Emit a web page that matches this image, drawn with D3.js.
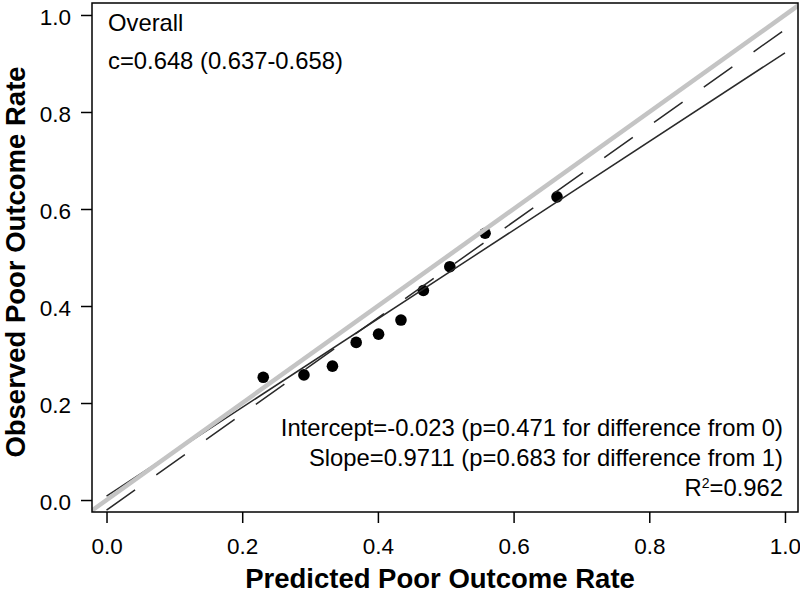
<!DOCTYPE html>
<html>
<head>
<meta charset="utf-8">
<script src="https://cdn.jsdelivr.net/npm/d3@7"></script>
<style>
  html, body { margin: 0; padding: 0; background: #fff; }
  svg { display: block; font-family: "Liberation Sans", Arial, Helvetica, sans-serif; }
</style>
</head>
<body>
<svg id="chart" width="800" height="594"></svg>
<script>
// ---- Data ----
const predicted = [0.231, 0.291, 0.333, 0.368, 0.401, 0.434, 0.467, 0.506, 0.558, 0.664];
const observed  = [0.253, 0.258, 0.276, 0.325, 0.342, 0.371, 0.432, 0.481, 0.550, 0.625];
const xTicks = [0.0, 0.2, 0.4, 0.6, 0.8, 1.0];
const yTicks = [0.0, 0.2, 0.4, 0.6, 0.8, 1.0];
// fitted lines as [x, y] endpoints
const solidLine  = [[0, 0.008], [1, 0.922]];
const dashedLine = [[0, -0.021], [1, 0.970]];
const idealLine  = [[-0.0214, -0.0214], [1.0192, 1.0192]];
const topLabels = ["Overall", "c=0.648 (0.637-0.658)"];
const bottomLabels = ["Intercept=-0.023 (p=0.471 for difference from 0)",
                      "Slope=0.9711 (p=0.683 for difference from 1)"];
const r2Label = "0.962";
const xTitle = "Predicted Poor Outcome Rate";
const yTitle = "Observed Poor Outcome Rate";

// ---- Layout ----
const svg = d3.select("#chart");
const x = d3.scaleLinear().domain([-0.0214, 1.0192]).range([92, 798]);
const y = d3.scaleLinear().domain([-0.0247, 1.0247]).range([512, 3]);
const fmt = d3.format(".1f");

svg.append("clipPath").attr("id", "plotclip")
  .append("rect").attr("x", 92).attr("y", 3).attr("width", 706).attr("height", 509);

const plot = svg.append("g").attr("clip-path", "url(#plotclip)");

// points
plot.selectAll("circle.pt").data(predicted.map((p, i) => [p, observed[i]]))
  .enter().append("circle")
  .attr("class", "pt")
  .attr("cx", d => x(d[0])).attr("cy", d => y(d[1]))
  .attr("r", 5.8).attr("fill", "#000");

const line = d3.line().x(d => x(d[0])).y(d => y(d[1]));

plot.append("path").datum(solidLine).attr("d", line)
  .attr("stroke", "#2a2a2a").attr("stroke-width", 1.5).attr("fill", "none");
plot.append("path").datum(dashedLine).attr("d", line)
  .attr("stroke", "#2a2a2a").attr("stroke-width", 1.5).attr("fill", "none")
  .attr("stroke-dasharray", "35,26");
plot.append("path").datum(idealLine).attr("d", line)
  .attr("stroke", "#c4c4c4").attr("stroke-width", 4.5).attr("fill", "none");

// box
svg.append("rect").attr("x", 92).attr("y", 3).attr("width", 706).attr("height", 509)
  .attr("fill", "none").attr("stroke", "#000").attr("stroke-width", 1.5);

// axes
const xAxis = svg.append("g").attr("transform", "translate(0,512)")
  .call(d3.axisBottom(x).tickValues(xTicks).tickFormat(fmt).tickSize(11).tickPadding(15));
xAxis.select(".domain").remove();
xAxis.selectAll(".tick line").attr("stroke", "#000").attr("stroke-width", 1.5);
xAxis.selectAll(".tick text").attr("font-size", 22.5).attr("fill", "#000")
  .attr("font-family", "Liberation Sans, Arial, sans-serif");

const yAxis = svg.append("g").attr("transform", "translate(92,0)")
  .call(d3.axisLeft(y).tickValues(yTicks).tickFormat(fmt).tickSize(11).tickPadding(10));
yAxis.select(".domain").remove();
yAxis.selectAll(".tick line").attr("stroke", "#000").attr("stroke-width", 1.5);
yAxis.selectAll(".tick text").attr("font-size", 22.5).attr("fill", "#000")
  .attr("dy", "0.42em").attr("font-family", "Liberation Sans, Arial, sans-serif");

// axis titles
svg.append("text").attr("x", 440).attr("y", 588).attr("text-anchor", "middle")
  .attr("font-size", 27.5).attr("font-weight", "bold").attr("fill", "#000").text(xTitle);
svg.append("text").attr("transform", "translate(25,262) rotate(-90)").attr("text-anchor", "middle")
  .attr("font-size", 27.5).attr("font-weight", "bold").attr("fill", "#000").text(yTitle);

// top-left annotations
svg.selectAll("text.tl").data(topLabels).enter().append("text")
  .attr("class", "tl")
  .attr("x", 108).attr("y", (d, i) => 31 + i * 38)
  .attr("font-size", 23.8).attr("fill", "#000").text(d => d);

// bottom-right annotations
svg.selectAll("text.br").data(bottomLabels).enter().append("text")
  .attr("class", "br")
  .attr("x", 783).attr("y", (d, i) => 436 + i * 30)
  .attr("text-anchor", "end")
  .attr("font-size", 23.8).attr("fill", "#000").text(d => d);

const r2 = svg.append("text").attr("x", 783).attr("y", 496).attr("text-anchor", "end")
  .attr("font-size", 23.8).attr("fill", "#000");
r2.append("tspan").text("R");
r2.append("tspan").attr("font-size", 14).attr("dy", -8).text("2");
r2.append("tspan").attr("dy", 8).text("=" + r2Label);
</script>
</body>
</html>
